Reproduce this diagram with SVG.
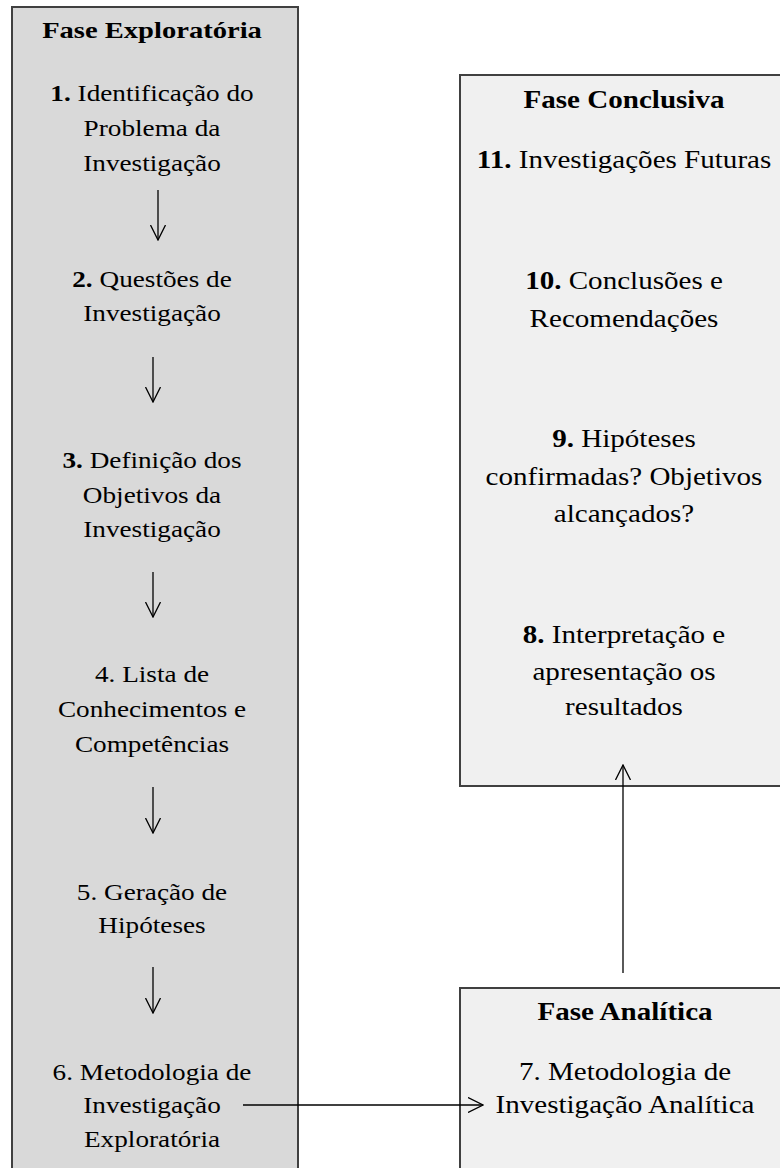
<svg xmlns="http://www.w3.org/2000/svg" width="780" height="1168" viewBox="0 0 780 1168">
<style>
.box{stroke:#404040;stroke-width:2}
.left{fill:#d9d9d9}
.right{fill:#f0f0f0}
text{font-family:"Liberation Serif","Times New Roman",serif;fill:#000;text-anchor:middle}
.l text{font-size:22.5px}
.r text{font-size:25.5px}
.t{font-weight:bold}
.b{font-weight:bold}
.conn{stroke:#000;stroke-width:1.3;fill:none;marker-end:url(#arr)}
</style>
<defs>
<marker id="arr" viewBox="0 0 16 16" refX="15" refY="8" markerWidth="16" markerHeight="16" markerUnits="userSpaceOnUse" orient="auto">
<path d="M0,0.5 L15,8 L0,15.5" fill="none" stroke="#000" stroke-width="1.3"/>
</marker>
</defs>
<rect width="780" height="1168" fill="#fff"/>
<g id="fase-exploratoria" class="l">
<rect class="box left" x="12" y="7" width="286" height="1170"/>
<g transform="translate(152,0) scale(1.27,1)">
<text class="t" x="0" y="38">Fase Exploratória</text>
</g>
</g>
<g id="fase-conclusiva" class="r">
<rect class="box right" x="460" y="75" width="330" height="711"/>
<g transform="translate(624,0) scale(1.14,1)">
<text class="t" x="0" y="108">Fase Conclusiva</text>
</g>
</g>
<g id="fase-analitica" class="r">
<rect class="box right" x="460" y="988" width="330" height="190"/>
<g transform="translate(625,0) scale(1.14,1)">
<text class="t" x="0" y="1020">Fase Analítica</text>
</g>
</g>
<g id="step1" class="l" transform="translate(152,0) scale(1.21,1)">
<text x="0" y="101"><tspan class="b">1.</tspan> Identificação do</text>
<text x="0" y="136">Problema da</text>
<text x="0" y="171">Investigação</text>
</g>
<g id="step2" class="l" transform="translate(152,0) scale(1.21,1)">
<text x="0" y="287"><tspan class="b">2.</tspan> Questões de</text>
<text x="0" y="321">Investigação</text>
</g>
<g id="step3" class="l" transform="translate(152,0) scale(1.21,1)">
<text x="0" y="468"><tspan class="b">3.</tspan> Definição dos</text>
<text x="0" y="503">Objetivos da</text>
<text x="0" y="537">Investigação</text>
</g>
<g id="step4" class="l" transform="translate(152,0) scale(1.21,1)">
<text x="0" y="682">4. Lista de</text>
<text x="0" y="717">Conhecimentos e</text>
<text x="0" y="752">Competências</text>
</g>
<g id="step5" class="l" transform="translate(152,0) scale(1.21,1)">
<text x="0" y="900">5. Geração de</text>
<text x="0" y="933">Hipóteses</text>
</g>
<g id="step6" class="l" transform="translate(152,0) scale(1.21,1)">
<text x="0" y="1080">6. Metodologia de</text>
<text x="0" y="1113">Investigação</text>
<text x="0" y="1147">Exploratória</text>
</g>
<g id="step7" class="r" transform="translate(625,0) scale(1.14,1)">
<text x="0" y="1080">7. Metodologia de</text>
<text x="0" y="1113">Investigação Analítica</text>
</g>
<g id="step8" class="r" transform="translate(624,0) scale(1.14,1)">
<text x="0" y="643"><tspan class="b">8.</tspan> Interpretação e</text>
<text x="0" y="680">apresentação os</text>
<text x="0" y="715">resultados</text>
</g>
<g id="step9" class="r" transform="translate(624,0) scale(1.14,1)">
<text x="0" y="447"><tspan class="b">9.</tspan> Hipóteses</text>
<text x="0" y="485">confirmadas? Objetivos</text>
<text x="0" y="522">alcançados?</text>
</g>
<g id="step10" class="r" transform="translate(624,0) scale(1.14,1)">
<text x="0" y="289"><tspan class="b">10.</tspan> Conclusões e</text>
<text x="0" y="327">Recomendações</text>
</g>
<g id="step11" class="r" transform="translate(624,0) scale(1.14,1)">
<text x="0" y="168"><tspan class="b">11.</tspan> Investigações Futuras</text>
</g>
<g id="connectors">
<path class="conn" d="M158,190 V240"/>
<path class="conn" d="M153,357 V402"/>
<path class="conn" d="M153,572 V617"/>
<path class="conn" d="M153,787 V833"/>
<path class="conn" d="M153,967 V1013"/>
<path class="conn" d="M243,1105 H483"/>
<path class="conn" d="M623,973 V765"/>
</g>
</svg>
